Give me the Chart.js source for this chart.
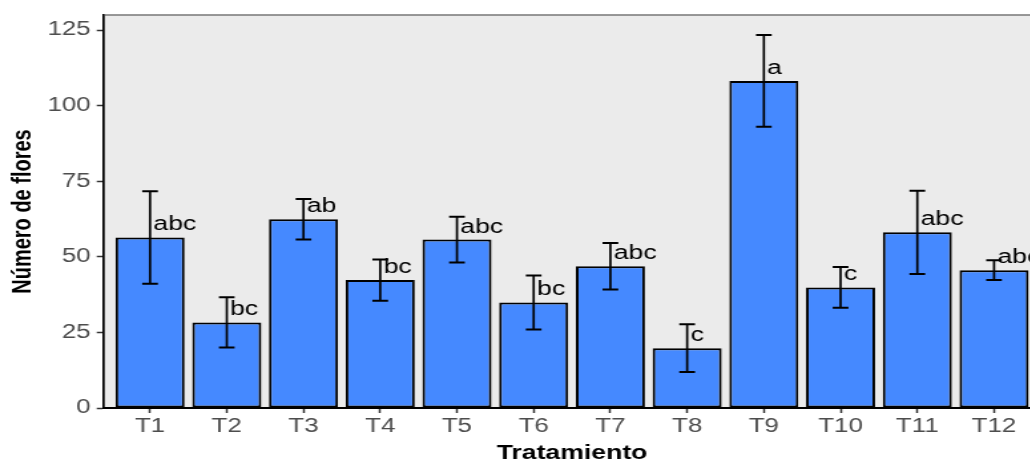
<!DOCTYPE html>
<html>
<head>
<meta charset="utf-8">
<script src="https://cdn.jsdelivr.net/npm/chart.js@4.4.0/dist/chart.umd.min.js"></script>
<style>
  html, body { margin: 0; padding: 0; overflow: hidden; background: #ffffff; width: 1030px; height: 462px; }
  /* the plot is laid out narrow and widened horizontally */
  #wrap { position: absolute; left: 0; top: 0; width: 800px; height: 462px; transform: scaleX(1.33); transform-origin: 0 0; }
</style>
</head>
<body>
<div id="wrap"><canvas id="grafico"></canvas></div>
<script>
// Número de flores por tratamiento: media, error y letras de la prueba de comparación
const tratamientos = ['T1', 'T2', 'T3', 'T4', 'T5', 'T6', 'T7', 'T8', 'T9', 'T10', 'T11', 'T12'];
const medias  = [56.4, 28.3, 62.4, 42.3, 55.7, 34.9, 46.9, 19.8, 108.2, 39.9, 58.1, 45.6];
const errores = [15.3, 8.3, 6.7, 6.8, 7.6, 8.9, 7.7, 7.9, 15.2, 6.7, 13.8, 3.3];
const letras  = ['abc', 'bc', 'ab', 'bc', 'abc', 'bc', 'abc', 'c', 'a', 'c', 'abc', 'abc'];
const yTicks  = [0, 25, 50, 75, 100, 125];
const yMax    = 130;

const FAMILIA = '"Liberation Sans", Arial, Helvetica, sans-serif';
Chart.defaults.font.family = FAMILIA;

// grey panel with a thin grey frame
const panel = {
  id: 'panel',
  beforeDraw(chart) {
    const { ctx, chartArea: a } = chart;
    ctx.save();
    ctx.fillStyle = '#EBEBEB';
    ctx.fillRect(a.left, a.top, a.right - a.left, a.bottom - a.top);
    ctx.strokeStyle = '#7F7F7F';
    ctx.lineWidth = 1.6;
    ctx.strokeRect(a.left, a.top, a.right - a.left, a.bottom - a.top);
    ctx.restore();
  }
};

// error bars and group letters
const errorYLetras = {
  id: 'errorYLetras',
  afterDatasetsDraw(chart) {
    const { ctx, scales: { x, y } } = chart;
    const cap = 5.9;
    ctx.save();
    ctx.strokeStyle = '#000000';
    medias.forEach((m, i) => {
      const px = x.getPixelForValue(i + 1);
      const yTop = y.getPixelForValue(m + errores[i]);
      const yBot = y.getPixelForValue(m - errores[i]);
      ctx.lineWidth = 1.7;
      ctx.beginPath();
      ctx.moveTo(px, yTop);
      ctx.lineTo(px, yBot);
      ctx.stroke();
      ctx.lineWidth = 2;
      ctx.beginPath();
      ctx.moveTo(px - cap, yTop);
      ctx.lineTo(px + cap, yTop);
      ctx.moveTo(px - cap, yBot);
      ctx.lineTo(px + cap, yBot);
      ctx.stroke();
    });
    ctx.fillStyle = '#000000';
    ctx.font = '20px ' + FAMILIA;
    ctx.textAlign = 'left';
    ctx.textBaseline = 'alphabetic';
    letras.forEach((l, i) => {
      const px = x.getPixelForValue(i + 1);
      const py = y.getPixelForValue(medias[i]);
      ctx.fillText(l, px + 2.5, py - 7);
    });
    ctx.restore();
  }
};

new Chart(document.getElementById('grafico'), {
  type: 'bar',
  data: {
    datasets: [{
      data: medias.map((m, i) => ({ x: i + 1, y: m })),
      backgroundColor: '#4589FF',
      borderColor: '#000000',
      borderWidth: 2,
      borderSkipped: false,
      categoryPercentage: 0.9,
      barPercentage: 1
    }]
  },
  options: {
    responsive: true,
    maintainAspectRatio: false,
    animation: false,
    layout: { padding: { left: 0, top: 15, right: 18, bottom: 0 } },
    plugins: { legend: { display: false }, tooltip: { enabled: false } },
    scales: {
      x: {
        type: 'linear',
        min: 0.4,
        max: 12.6,
        offset: false,
        afterBuildTicks: s => { s.ticks = tratamientos.map((t, i) => ({ value: i + 1 })); },
        afterFit: s => { s.height = 54; },
        ticks: {
          callback: (v, i) => tratamientos[i],
          autoSkip: false,
          maxRotation: 0,
          color: '#4D4D4D',
          font: { size: 19.5, lineHeight: 1 },
          padding: 4
        },
        grid: { display: true, offset: false, drawOnChartArea: false, drawTicks: true, tickLength: 5, tickColor: '#333333', tickWidth: 1.5 },
        border: { display: true, color: '#000000', width: 2, z: 1 },
        title: {
          display: true,
          text: 'Tratamiento',
          color: '#000000',
          font: { size: 20, weight: 'bold', lineHeight: 1 },
          padding: { top: 0, bottom: -1 }
        }
      },
      y: {
        type: 'linear',
        min: 0,
        max: yMax,
        afterBuildTicks: s => { s.ticks = yTicks.map(v => ({ value: v })); },
        afterFit: s => { s.width = 78.2; },
        ticks: {
          color: '#4D4D4D',
          font: { size: 19.5, lineHeight: 1 },
          padding: 4.5
        },
        grid: { display: true, drawOnChartArea: false, drawTicks: true, tickLength: 5.5, tickColor: '#333333', tickWidth: 1.5 },
        border: { display: true, color: '#000000', width: 1.5, z: 1 },
        title: {
          display: true,
          text: 'Número de flores',
          color: '#000000',
          font: { size: 20, weight: 'bold', lineHeight: 1 },
          padding: { top: 7, bottom: 0 }
        }
      }
    }
  },
  plugins: [panel, errorYLetras]
});
</script>
</body>
</html>
